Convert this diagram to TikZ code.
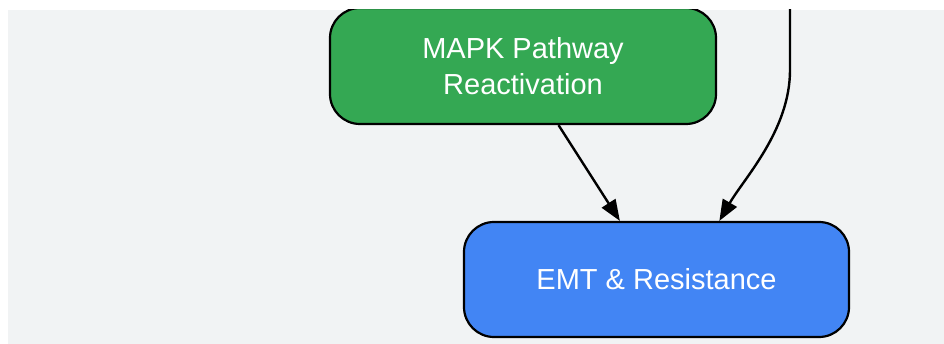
\documentclass[tikz,border=0pt]{standalone}
\usepackage{fontspec}
\setmainfont{Liberation Sans}
\usetikzlibrary{arrows.meta}

\definecolor{bggray}{HTML}{F1F3F4}
\definecolor{mapkgreen}{HTML}{34A853}
\definecolor{emtblue}{HTML}{4285F4}

\begin{document}
\begin{tikzpicture}[
    x=1pt, y=-1pt,
    >={Triangle[length=21pt,width=16pt]},
    box/.style={draw=black, line width=2.2pt, rounded corners=30pt, text=white,
        align=center, font=\fontsize{29}{36}\selectfont, inner sep=0pt},
    greenbox/.style={box, fill=mapkgreen, minimum width=386pt, minimum height=116pt},
    bluebox/.style={box, fill=emtblue, minimum width=385pt, minimum height=115pt},
    link/.style={line width=2.4pt, ->}
]

% Canvas and background
\useasboundingbox (0,0) rectangle (944,344);
\fill[white] (0,0) rectangle (944,344);
\fill[bggray] (8,10) rectangle (944,344);
\clip (8,10) rectangle (944,344);

% Nodes
\node[greenbox] (mapk) at (523,66) {MAPK Pathway\\Reactivation};
\node[bluebox] (emt) at (656.5,279.5) {EMT \& Resistance};
\coordinate (upstream) at (790,0);

% Edges
\draw[link] (mapk.-59) -- (emt.122);
\draw[link] (upstream) -- ++(0,70) .. controls +(0,60) and +(25,-43) .. (emt.43);

\end{tikzpicture}
\end{document}
